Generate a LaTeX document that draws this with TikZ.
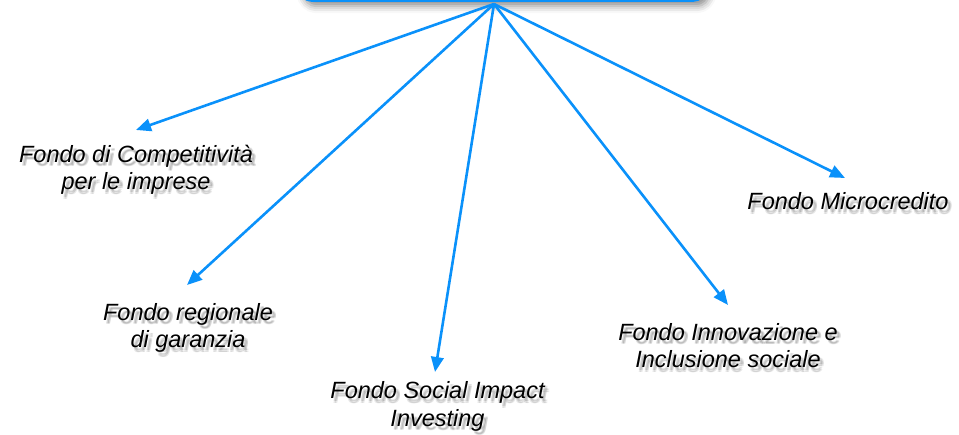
\documentclass[tikz,border=0pt]{standalone}
\usepackage{fontspec}
\setmainfont{Liberation Sans}
\usetikzlibrary{arrows.meta,shadows.blur}
\definecolor{linkblue}{RGB}{10,145,250}
\tikzset{
  lbl/.style={font=\fontsize{23.5}{27.5}\selectfont\itshape, align=center, inner sep=0pt, anchor=base},
  link/.style={draw=linkblue, line width=2.6pt, -{Triangle[length=15pt,width=12.5pt]}},
  topbox/.style={draw=linkblue, line width=3.5pt, fill=white, rounded corners=13pt,
    minimum width=406pt, minimum height=80pt, inner sep=0pt,
    blur shadow={shadow xshift=4pt, shadow yshift=-6pt, shadow blur radius=7pt, shadow opacity=45}}
}
\newcommand\shadtext[4]{%
  \foreach \dx [count=\i] in {2.5,4}{%
    \foreach \dy [count=\j] in {3,4.5}{%
      \node[lbl, text opacity=0.09] (#1-s\i-\j) at (#2+\dx,#3+\dy) {#4};%
    }}%
  \node[lbl] (#1) at (#2,#3) {#4};%
}
\begin{document}
\begin{tikzpicture}[x=1pt,y=-1pt]
\useasboundingbox (0,0) rectangle (959,435);
\node[topbox, anchor=south] (box) at (502.5,2) {};
\coordinate (hub) at (494,4);
\shadtext{comp}{136}{190}{Fondo di Competitività\\per le imprese}
\shadtext{reg}{188}{348}{Fondo regionale\\di garanzia}
\shadtext{sii}{437.5}{426.5}{Fondo Social Impact\\Investing}
\shadtext{inn}{728}{368}{Fondo Innovazione e\\Inclusione sociale}
\shadtext{mic}{848}{210}{Fondo Microcredito}
\coordinate (t1) at (136,130);
\coordinate (t2) at (187,285);
\coordinate (t3) at (435,372);
\coordinate (t4) at (728,305);
\coordinate (t5) at (845,178);
\foreach \t in {t1,t2,t3,t4,t5}{\draw[link] (hub) -- (\t);}
\end{tikzpicture}
\end{document}
